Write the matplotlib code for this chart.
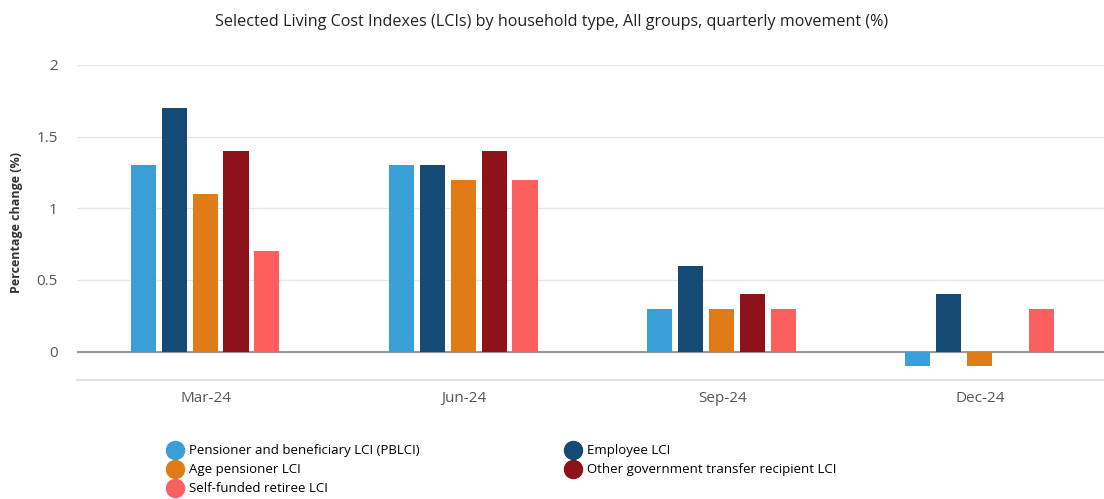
import numpy as np
import matplotlib.pyplot as plt
from matplotlib.lines import Line2D

plt.rcParams['font.family'] = ['Open Sans', 'DejaVu Sans']

# Quarterly movement (%) per household type
quarters = ["Mar-24", "Jun-24", "Sep-24", "Dec-24"]
series_names = ["Pensioner and beneficiary LCI (PBLCI)", "Employee LCI", "Age pensioner LCI",
                "Other government transfer recipient LCI", "Self-funded retiree LCI"]
pblci = [1.3, 1.3, 0.3, -0.1]
employee = [1.7, 1.3, 0.6, 0.4]
age_pensioner = [1.1, 1.2, 0.3, -0.1]
other_gov = [1.4, 1.4, 0.4, 0.0]
self_funded = [0.7, 1.2, 0.3, 0.3]
colors = ["#3a9fd6", "#154a75", "#e07c17", "#8e1219", "#fd5f5f"]

all_series = [pblci, employee, age_pensioner, other_gov, self_funded]

fig = plt.figure(figsize=(11.04, 4.99), dpi=100)
ax = fig.add_axes([0.07, 0.238, 0.935, 0.632])

x = np.arange(len(quarters))
width = 0.097
step = 0.12
for i, (vals, col) in enumerate(zip(all_series, colors)):
    ax.bar(x + (i - 2) * step - 0.005, vals, width, color=col, zorder=3)

ax.set_xlim(-0.5, len(quarters) - 0.5)
ax.set_ylim(-0.2, 2)
ax.set_yticks([0, 0.5, 1, 1.5, 2])
ax.set_yticklabels(["0", "0.5", "1", "1.5", "2"])
ax.set_xticks(x)
ax.set_xticklabels(quarters)
ax.tick_params(axis='both', length=0, labelsize=11, labelcolor="#555555")
ax.tick_params(axis='x', pad=8)
ax.tick_params(axis='y', pad=14)
ax.grid(axis='y', color="#e6e6e6", linewidth=1, zorder=0)
ax.axhline(0, color="#999999", linewidth=1.5, zorder=2)
for s in ["top", "left", "right"]:
    ax.spines[s].set_visible(False)
ax.spines["bottom"].set_color("#dbe4ee")
ax.spines["bottom"].set_linewidth(1.5)

ax.set_ylabel("Percentage change (%)", fontsize=9, fontweight='bold', color="#333333", labelpad=10)
fig.text(0.5, 0.955, "Selected Living Cost Indexes (LCIs) by household type, All groups, quarterly movement (%)",
         ha='center', va='center', fontsize=11.6, color="#222222")

# legend: first column three items, second column two items
order = [0, 2, 4, 1, 3]
handles = [Line2D([], [], marker='o', linestyle='', markersize=13, color=colors[k]) for k in order]
labels = [series_names[k] for k in order]
fig.legend(handles, labels, ncol=2, loc='upper left', bbox_to_anchor=(0.147, 0.12),
           frameon=False, fontsize=9.5, handletextpad=0.45, columnspacing=11.0,
           labelspacing=0.45, borderaxespad=0, handlelength=1.2)

fig.savefig("out.png", dpi=100)
